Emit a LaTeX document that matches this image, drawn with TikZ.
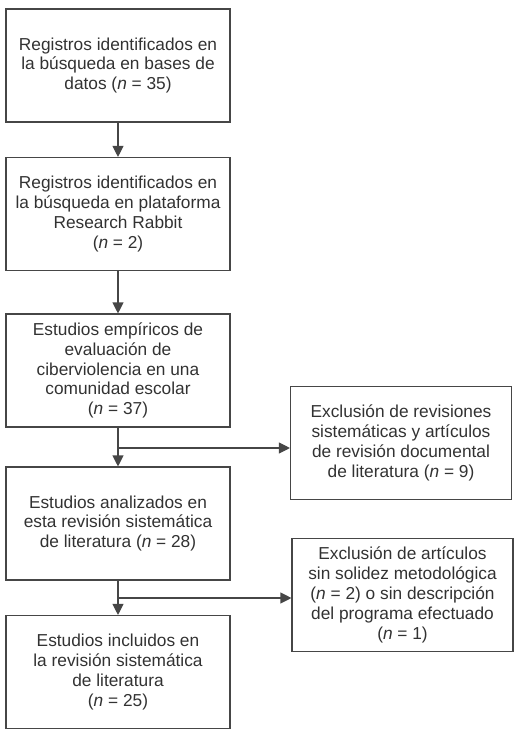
\documentclass[tikz,border=0pt]{standalone}
\usepackage{fontspec}
\setmainfont{Liberation Sans}
\usetikzlibrary{arrows.meta}
\definecolor{linegray}{RGB}{70,70,70}
\definecolor{textgray}{RGB}{50,50,50}
\begin{document}
\begin{tikzpicture}[x=1pt,y=-1pt,font=\fontsize{17.3}{19.8}\selectfont,>={Triangle[length=11pt,width=11pt]},
    stage/.style={draw=linegray,line width=1.1pt,text=textgray,
      minimum width=224pt,minimum height=113pt,align=center},
    excl/.style={stage,minimum width=221pt}]
    \useasboundingbox (0,0) rectangle (532,738);
    \node[stage] (b1) at (118,65.5) {Registros identificados en\\la búsqueda en bases de\\datos (\textit{n} = 35)};
    \node[stage] (b2) at (118,214) {Registros identificados en\\la búsqueda en plataforma\\Research Rabbit\\(\textit{n} = 2)};
    \node[stage] (b3) at (118,370.5) {Estudios empíricos de\\evaluación de\\ciberviolencia en una\\comunidad escolar\\(\textit{n} = 37)};
    \node[excl] (e1) at (401,443) {Exclusión de revisiones\\sistemáticas y artículos\\de revisión documental\\de literatura (\textit{n} = 9)};
    \node[stage] (b4) at (118,523.5) {Estudios analizados en\\esta revisión sistemática\\de literatura (\textit{n} = 28)};
    \node[excl] (e2) at (402.5,595) {Exclusión de artículos\\sin solidez metodológica\\(\textit{n} = 2) o sin descripción\\del programa efectuado\\(\textit{n} = 1)};
    \node[stage] (b5) at (118,672) {Estudios incluidos en\\la revisión sistemática\\de literatura\\(\textit{n} = 25)};
    \coordinate (j1) at (118,448);
    \coordinate (j2) at (118,598);
    \draw[->,line width=1.1pt,linegray] (b1)--(b2);
    \draw[->,line width=1.1pt,linegray] (b2)--(b3);
    \draw[->,line width=1.1pt,linegray] (b3)--(b4);
    \draw[->,line width=1.1pt,linegray] (j1)--(j1-|e1.west);
    \draw[->,line width=1.1pt,linegray] (b4)--(b5);
    \draw[->,line width=1.1pt,linegray] (j2)--(j2-|e2.west);
  \end{tikzpicture}
\end{document}
